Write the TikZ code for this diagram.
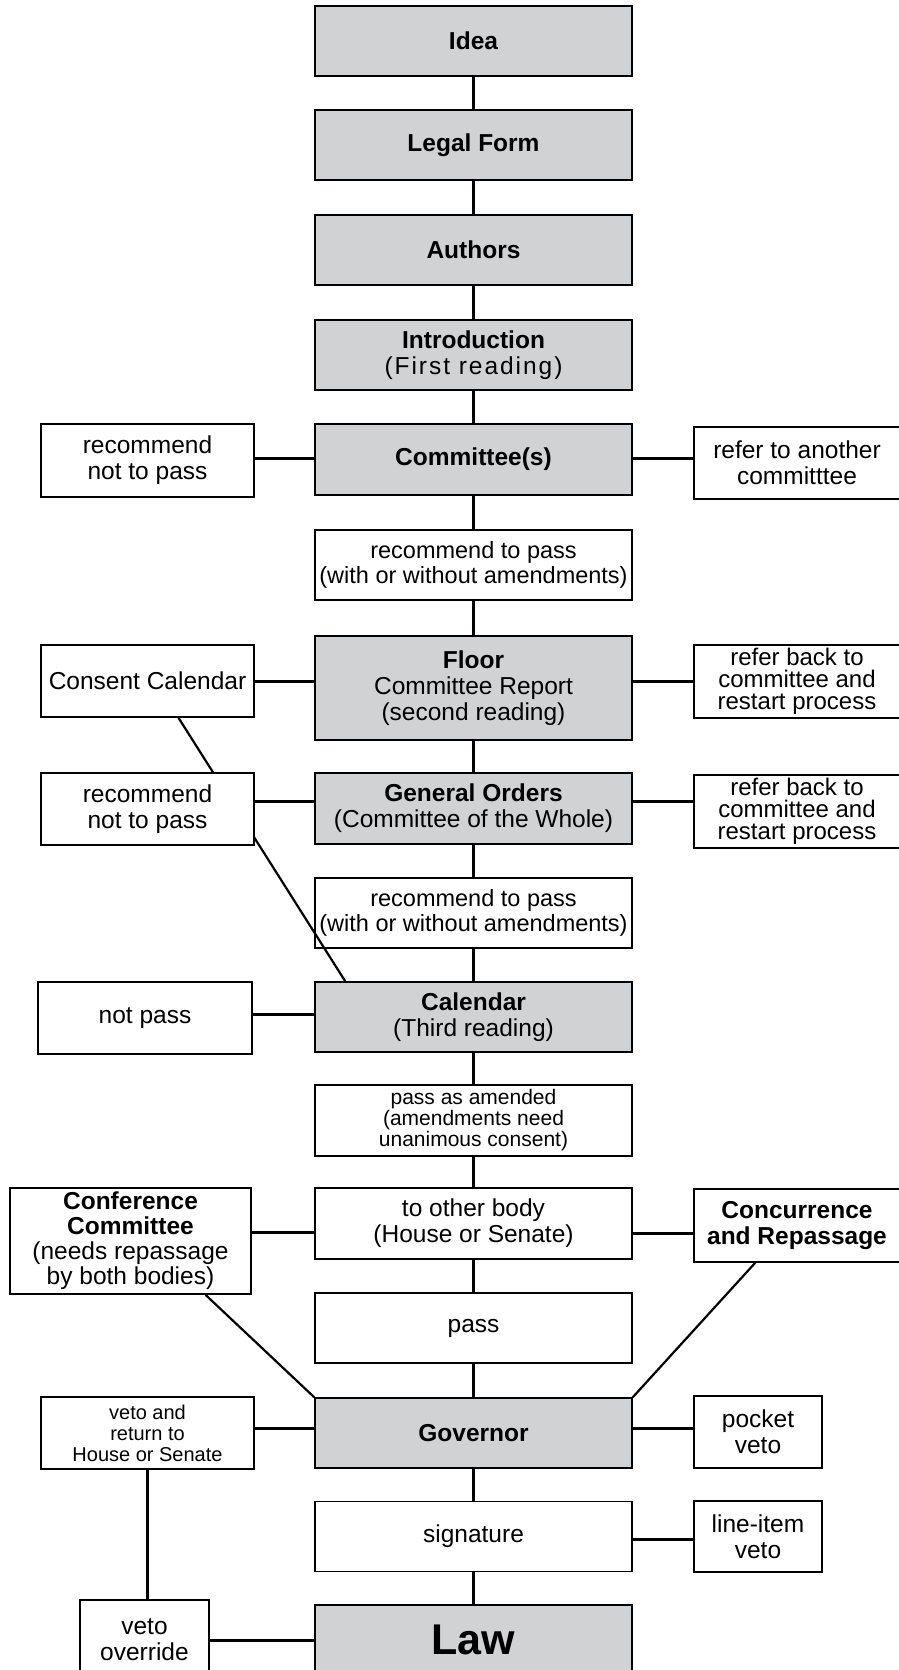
\documentclass[tikz,border=0pt]{standalone}
\usepackage{fontspec}
\setmainfont{Liberation Sans}
\usepackage{xcolor}
\usetikzlibrary{backgrounds}

\definecolor{stagegray}{RGB}{209,210,212}

\begin{document}
\begin{tikzpicture}[x=1pt, y=-1pt,
        box/.style={draw, line width=1.6pt, inner sep=2pt, align=center, minimum height=70pt, font=\fontsize{24.5}{26}\selectfont},
        stage/.style={box, fill=stagegray, minimum width=317pt},
        outcome/.style={box, fill=white, minimum width=317pt},
        side/.style={box, fill=white, minimum width=213pt, minimum height=72pt},
        link/.style={line width=2.2pt},
        branch/.style={line width=3pt}]

                \useasboundingbox (0,0) rectangle (899,1670);

                % Nodes
                \node[stage] (idea) at (473.5,41) {\bfseries Idea};
                \node[stage] (legal) at (473.5,145) {\bfseries Legal Form};
                \node[stage] (authors) at (473.5,250) {\bfseries Authors};
                \node[stage] (intro) at (473.5,355) {\textbf{Introduction}\\{\addfontfeature{LetterSpace=8}(First reading)}};
                \node[stage, minimum height=71pt] (comm) at (473.5,459.5) {\bfseries Committee(s)};
                \node[outcome, inner sep=1pt, font=\fontsize{23.5}{25}\selectfont] (passA) at (473.5,565) {recommend to pass\\(with or without amendments)};
                \node[stage, minimum height=104pt] (floor) at (473.5,688) {\textbf{Floor}\\Committee Report\\(second reading)};
                \node[stage, minimum height=71pt] (orders) at (473.5,808.5) {\textbf{General Orders}\\(Committee of the Whole)};
                \node[outcome, fill=none, inner sep=1pt, font=\fontsize{23.5}{25}\selectfont] (passB) at (473.5,913) {recommend to pass\\(with or without amendments)};
                \node[stage] (calendar) at (473.5,1017) {\textbf{Calendar}\\(Third reading)};
                \node[outcome, minimum height=71pt, font=\fontsize{21}{21}\selectfont] (amended) at (473.5,1120.5) {pass as amended\\(amendments need\\unanimous consent)};
                \node[outcome, minimum height=71pt] (other) at (473.5,1223.5) {to other body\\(House or Senate)};
                \node[outcome] (pass) at (473.5,1328) {pass};
                \node[stage] (governor) at (473.5,1433) {\bfseries Governor};
                \node[outcome] (signature) at (473.5,1536.5) {signature};
                \node[stage, font=\fontsize{43}{43}\selectfont\bfseries] (law) at (473.5,1640) {Law};

                \node[side, minimum height=73pt] (notA) at (147.5,460.5) {recommend\\not to pass};
                \node[side] (consent) at (147.5,681) {Consent Calendar};
                \node[side] (notB) at (147.5,809) {recommend\\not to pass};
                \node[side, minimum width=214pt] (notpass) at (145,1018) {not pass};
                \node[side, minimum width=241pt, minimum height=106pt, font=\fontsize{24.5}{25}\selectfont] (conf) at (130.5,1241) {\textbf{Conference}\\\textbf{Committee}\\(needs repassage\\by both bodies)};
                \node[side, font=\fontsize{20}{21}\selectfont] (vetoret) at (147.5,1433) {veto and\\return to\\House or Senate};
                \node[side, minimum width=129pt, minimum height=80pt] (override) at (144.5,1640) {veto\\override};

                \node[side, minimum width=206pt] (another) at (797,463) {refer to another\\committtee};
                \node[side, minimum width=206pt, minimum height=73pt, font=\fontsize{24}{22}\selectfont] (backA) at (797,681.5) {refer back to\\committee and\\restart process};
                \node[side, minimum width=206pt, minimum height=73pt, font=\fontsize{24}{22}\selectfont] (backB) at (797,811.5) {refer back to\\committee and\\restart process};
                \node[side, minimum width=206pt, minimum height=73pt] (concur) at (797,1225.5) {\textbf{Concurrence}\\\textbf{and Repassage}};
                \node[side, minimum width=128pt] (pocket) at (758,1432) {pocket\\veto};
                \node[side, minimum width=128pt, minimum height=71pt] (lineitem) at (758,1536.5) {line-item\\veto};

                % Edges
                \draw[link] (idea) -- (legal);
                \draw[link] (legal) -- (authors);
                \draw[link] (authors) -- (intro);
                \draw[link] (intro) -- (comm);
                \draw[link] (comm) -- (passA);
                \draw[link] (passA) -- (floor);
                \draw[link] (floor) -- (orders);
                \draw[link] (orders) -- (passB);
                \draw[link] (passB) -- (calendar);
                \draw[link] (calendar) -- (amended);
                \draw[link] (amended) -- (other);
                \draw[link] (other) -- (pass);
                \draw[link] (pass) -- (governor);
                \draw[link] (governor) -- (signature);
                \draw[link] (signature) -- (law);

                \draw[branch] ([yshift=2pt]notA.east) -- ([yshift=2pt]notA.east -| comm.west);
                \draw[branch] ([yshift=5pt]another.west) -- ([yshift=5pt]another.west -| comm.east);
                \draw[branch] (consent.east) -- (consent.east -| floor.west);
                \draw[branch] (backA.west) -- (backA.west -| floor.east);
                \draw[branch] ([yshift=8pt]notB.east) -- ([yshift=8pt]notB.east -| orders.west);
                \draw[branch] ([yshift=10pt]backB.west) -- ([yshift=10pt]backB.west -| orders.east);
                \draw[branch] ([yshift=4pt]notpass.east) -- ([yshift=4pt]notpass.east -| calendar.west);
                \draw[branch] ([yshift=9pt]conf.east) -- ([yshift=9pt]conf.east -| other.west);
                \draw[branch] ([yshift=-7.5pt]concur.west) -- ([yshift=-7.5pt]concur.west -| other.east);
                \draw[branch] ([yshift=5pt]vetoret.east) -- ([yshift=5pt]vetoret.east -| governor.west);
                \draw[branch] ([yshift=4pt]pocket.west) -- ([yshift=4pt]pocket.west -| governor.east);
                \draw[branch] ([yshift=-2.5pt]lineitem.west) -- ([yshift=-2.5pt]lineitem.west -| signature.east);
                \draw[branch] (override.east) -- (override.east -| law.west);

                \begin{scope}[on background layer]
                \draw[link] ([xshift=31pt]consent.south) -- ([xshift=31pt]calendar.north west);
                \end{scope}
                \draw[link] ([xshift=75pt]conf.south) -- (governor.north west);
                \draw[link] ([xshift=62pt]concur.south west) -- (governor.north east);
                \draw[link] (vetoret.south) -- (vetoret.south |- override.north);

\end{tikzpicture}
\end{document}
